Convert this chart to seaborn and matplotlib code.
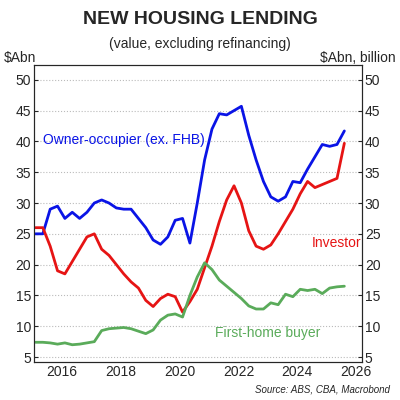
import numpy as np
import pandas as pd
import seaborn as sns
import matplotlib.pyplot as plt

sns.set_style("white")
plt.rcParams['font.family'] = ['Liberation Sans', 'DejaVu Sans']

dates = [2015.1 + 0.25 * i for i in range(43)]
owner = [25, 25, 29, 29.5, 27.5, 28.5, 27.5, 28.5, 30, 30.5,
         30, 29.2, 29, 29, 27.5, 26, 24, 23.3, 24.5, 27.2,
         27.5, 23.5, 30, 37, 42, 44.5, 44.3, 45, 45.7, 41,
         37, 33.5, 31, 30.3, 31, 33.5, 33.3, 35.5, 37.5, 39.5,
         39.2, 39.5, 41.7]
investor = [26, 26, 23, 19, 18.5, 20.5, 22.5, 24.5, 25, 22.5,
            21.5, 20, 18.5, 17.2, 16.2, 14.2, 13.2, 14.5, 15.2, 14.8,
            12.3, 14, 16, 19.5, 23, 27, 30.5, 32.8, 30, 25.5,
            23, 22.5, 23.2, 25, 27, 29, 31.5, 33.5, 32.5, 33,
            33.5, 34, 39.7]
fhb = [7.4, 7.4, 7.3, 7.1, 7.3, 7.0, 7.1, 7.3, 7.5, 9.3,
       9.6, 9.7, 9.8, 9.6, 9.2, 8.8, 9.4, 11, 11.8, 12,
       11.5, 15, 18, 20.3, 19.2, 17.5, 16.5, 15.5, 14.5, 13.3,
       12.8, 12.8, 13.8, 13.5, 15.2, 14.8, 16, 15.8, 16, 15.3,
       16.2, 16.4, 16.5]

df = pd.DataFrame({"date": dates, "Owner-occupier": owner,
                   "Investor": investor, "First-home buyer": fhb})
long = df.melt("date", var_name="series", value_name="value")
colors = {"Owner-occupier": "#0a14e6", "Investor": "#e61414", "First-home buyer": "#5aab5a"}

fig, ax = plt.subplots(figsize=(4, 4), dpi=100)
fig.subplots_adjust(left=0.085, right=0.905, top=0.8375, bottom=0.095)
sns.lineplot(data=long, x="date", y="value", hue="series", palette=colors,
             linewidth=2, legend=False, ax=ax)
ax.set_xlim(2015.05, 2026.2)
ax.set_ylim(4.2, 52.4)
ax.set_yticks(range(5, 51, 5))
ax.set_xticks(range(2016, 2027, 2))
ax.grid(axis="y", linestyle=":", color="#bbbbbb", linewidth=0.8)
ax.set_xlabel("")
ax.set_ylabel("")
ax.tick_params(labelsize=10, length=3, direction="in", pad=2)
for s in ax.spines.values():
    s.set_color("#333333")
    s.set_linewidth(0.8)
ax2 = ax.twinx()
ax2.set_ylim(ax.get_ylim())
ax2.set_yticks(range(5, 51, 5))
ax2.tick_params(labelsize=10, length=3, direction="in", pad=2)

ax.text(2015.35, 39.5, "Owner-occupier (ex. FHB)", color="#0a14e6", fontsize=10)
ax.text(2024.5, 22.8, "Investor", color="#e61414", fontsize=10)
ax.text(2021.2, 8.2, "First-home buyer", color="#5aab5a", fontsize=10)

fig.text(0.5, 0.94, "NEW HOUSING LENDING", ha="center", fontsize=14, fontweight="bold")
fig.text(0.5, 0.88, "(value, excluding refinancing)", ha="center", fontsize=10)
fig.text(0.01, 0.845, "$Abn", fontsize=10)
fig.text(0.99, 0.845, "$Abn, billion", fontsize=10, ha="right")
fig.text(0.975, 0.02, "Source: ABS, CBA, Macrobond", fontsize=7, ha="right", style="italic")

fig.savefig("out.png")
